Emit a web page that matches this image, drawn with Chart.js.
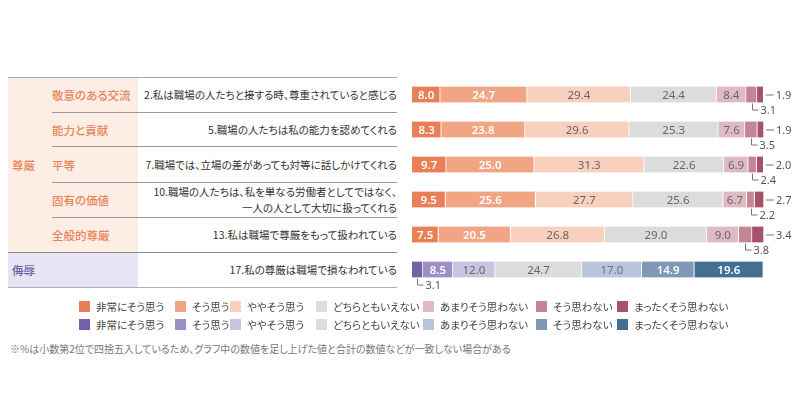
<!DOCTYPE html>
<html lang="ja">
<head>
<meta charset="utf-8">
<script src="https://cdn.jsdelivr.net/npm/chart.js@4"></script>
<style>
  body { margin: 0; background: #fff; font-family: "Noto Sans CJK JP", "Noto Sans", sans-serif; font-feature-settings: "palt"; }
  #page { position: relative; width: 800px; height: 417px; overflow: hidden; }
  .abs { position: absolute; }
  .line { position: absolute; height: 1px; }
  .cell { position: absolute; display: flex; align-items: center; height: 35px; }
  .sub { color: #e8835a; font-size: 11.5px; font-weight: 500; left: 52px; }
  .q { color: #333; font-size: 10.5px; right: 403px; text-align: right; justify-content: flex-end; line-height: 1.5; }
  .leg { position: absolute; font-size: 10.5px; color: #444; display: flex; align-items: center; height: 14px; }
  .leg i { display: inline-block; width: 11px; height: 11px; margin-right: 6px; }
  #chartBox { position: absolute; left: 400px; top: 77px; width: 400px; height: 235px; }
</style>
</head>
<body>
<div id="page">
  <div class="abs" style="left:8px;top:77px;width:130px;height:175px;background:#fdeee5"></div>
  <div class="abs" style="left:8px;top:252px;width:130px;height:35px;background:#e7e5f3"></div>
  <div class="line" style="left:8px;top:77px;width:389px;background:#a8a8a8"></div>
  <div class="line" style="left:52px;top:112px;width:345px;background:#999"></div>
  <div class="line" style="left:52px;top:146px;width:345px;background:#999"></div>
  <div class="line" style="left:52px;top:182px;width:345px;background:#999"></div>
  <div class="line" style="left:52px;top:217px;width:345px;background:#999"></div>
  <div class="line" style="left:8px;top:252px;width:389px;background:#8c8c8c"></div>
  <div class="line" style="left:8px;top:287px;width:389px;background:#b0b0b0"></div>

  <div class="cell" style="left:12px;top:147px;color:#e8835a;font-size:11.5px;font-weight:500">尊厳</div>
  <div class="cell" style="left:12px;top:252px;color:#6b5fa5;font-size:11.5px;font-weight:500">侮辱</div>
  <div id="tableText"></div>

  <div id="chartBox"><canvas id="myChart"></canvas></div>
  <div id="legend"></div>

  <div class="abs" style="left:10px;top:341px;font-size:10px;color:#777">※%は小数第2位で四捨五入しているため、グラフ中の数値を足し上げた値と合計の数値などが一致しない場合がある</div>
</div>

<script>
// table labels
const subCategories = ["敬意のある交流", "能力と貢献", "平等", "固有の価値", "全般的尊厳", ""];
const questions = [
    "2.私は職場の人たちと接する時、尊重されていると感じる",
    "5.職場の人たちは私の能力を認めてくれる",
    "7.職場では、立場の差があっても対等に話しかけてくれる",
    "10.職場の人たちは、私を単なる労働者としてではなく、<br>一人の人として大切に扱ってくれる",
    "13.私は職場で尊厳をもって扱われている",
    "17.私の尊厳は職場で損なわれている"
];
const answers = ["非常にそう思う", "そう思う", "ややそう思う", "どちらともいえない", "あまりそう思わない", "そう思わない", "まったくそう思わない"];

// values per question (%), in answer order
const q2 = [8.0, 24.7, 29.4, 24.4, 8.4, 3.1, 1.9];
const q5 = [8.3, 23.8, 29.6, 25.3, 7.6, 3.5, 1.9];
const q7 = [9.7, 25.0, 31.3, 22.6, 6.9, 2.4, 2.0];
const q10 = [9.5, 25.6, 27.7, 25.6, 6.7, 2.2, 2.7];
const q13 = [7.5, 20.5, 26.8, 29.0, 9.0, 3.8, 3.4];
const q17 = [3.1, 8.5, 12.0, 24.7, 17.0, 14.9, 19.6];
const rows = [q2, q5, q7, q10, q13, q17];

const orangeColors = ["#e97f57", "#f2a585", "#f9cfbd", "#dcdcdc", "#dfbac4", "#c68595", "#a6526a"];
const purpleColors = ["#7461a7", "#9c8fc5", "#cac4e1", "#dcdcdc", "#b6c5db", "#7f98b7", "#456e93"];
const orangeText = ["#fff", "#fff", "#666", "#666", "#666", "#666", "#666"];
const purpleText = ["#fff", "#fff", "#666", "#666", "#6f6f7a", "#fff", "#fff"];
const palettes = [0, 0, 0, 0, 0, 1];

// table text
let html = "";
questions.forEach((q, i) => {
    const top = 77 + i * 35;
    if (subCategories[i]) html += `<div class="cell sub" style="top:${top}px">${subCategories[i]}</div>`;
    html += `<div class="cell q" style="top:${top}px">${q}</div>`;
});
document.getElementById("tableText").innerHTML = html;

// legend
const legendX = [79, 175, 230, 316, 423, 536, 617];
let lg = "";
[orangeColors, purpleColors].forEach((cols, r) => {
    answers.forEach((a, k) => {
        lg += `<div class="leg" style="left:${legendX[k]}px;top:${299 + r * 18}px"><i style="background:${cols[k]}"></i>${a}</div>`;
    });
});
document.getElementById("legend").innerHTML = lg;

const datasets = answers.map((a, k) => ({
    label: a,
    data: rows.map(r => r[k]),
    backgroundColor: palettes.map(p => (p ? purpleColors : orangeColors)[k]),
    borderColor: "#fff",
    borderWidth: { right: 1, left: 0, top: 0, bottom: 0 },
    borderSkipped: false,
    barThickness: 16
}));

const valueLabels = {
    id: "valueLabels",
    afterDatasetsDraw(chart) {
        const ctx = chart.ctx;
        ctx.save();
        chart.data.datasets.forEach((ds, k) => {
            const meta = chart.getDatasetMeta(k);
            meta.data.forEach((bar, j) => {
                const v = ds.data[j];
                const txt = v.toFixed(1);
                const cx = (bar.x + bar.base) / 2;
                const textCols = palettes[j] ? purpleText : orangeText;
                if (v >= 5) {
                    ctx.fillStyle = textCols[k];
                    ctx.font = (textCols[k] === "#fff" ? "600 " : "400 ") + "11.5px 'Noto Sans', sans-serif";
                    ctx.textAlign = "center";
                    ctx.textBaseline = "middle";
                    ctx.fillText(txt, cx, bar.y + 1);
                    return;
                }
                ctx.strokeStyle = "#777";
                ctx.lineWidth = 1;
                ctx.fillStyle = "#555";
                ctx.font = "400 11px 'Noto Sans', sans-serif";
                ctx.textAlign = "left";
                ctx.textBaseline = "middle";
                if (k === answers.length - 1) {
                    ctx.beginPath();
                    ctx.moveTo(bar.x + 2, bar.y + 0.5);
                    ctx.lineTo(bar.x + 10, bar.y + 0.5);
                    ctx.stroke();
                    ctx.fillText(txt, bar.x + 12, bar.y + 1);
                } else {
                    const bottom = bar.y + bar.height / 2;
                    const lx = Math.round(cx) + 0.5;
                    ctx.beginPath();
                    ctx.moveTo(lx, bottom + 1);
                    ctx.lineTo(lx, bottom + 7.5);
                    ctx.lineTo(lx + 6, bottom + 7.5);
                    ctx.stroke();
                    ctx.fillText(txt, lx + 8, bottom + 8);
                }
            });
        });
        ctx.restore();
    }
};

new Chart("myChart", {
    type: "bar",
    data: { labels: questions.map((q, i) => "Q" + i), datasets: datasets },
    options: {
        indexAxis: "y",
        responsive: true,
        maintainAspectRatio: false,
        animation: false,
        layout: { padding: { left: 12, right: 36, top: 0, bottom: 25 } },
        plugins: {
            legend: { display: false },
            tooltip: { enabled: false }
        },
        scales: {
            x: { stacked: true, min: 0, max: 100, display: false },
            y: { stacked: true, display: false }
        }
    },
    plugins: [valueLabels]
});
</script>
</body>
</html>
